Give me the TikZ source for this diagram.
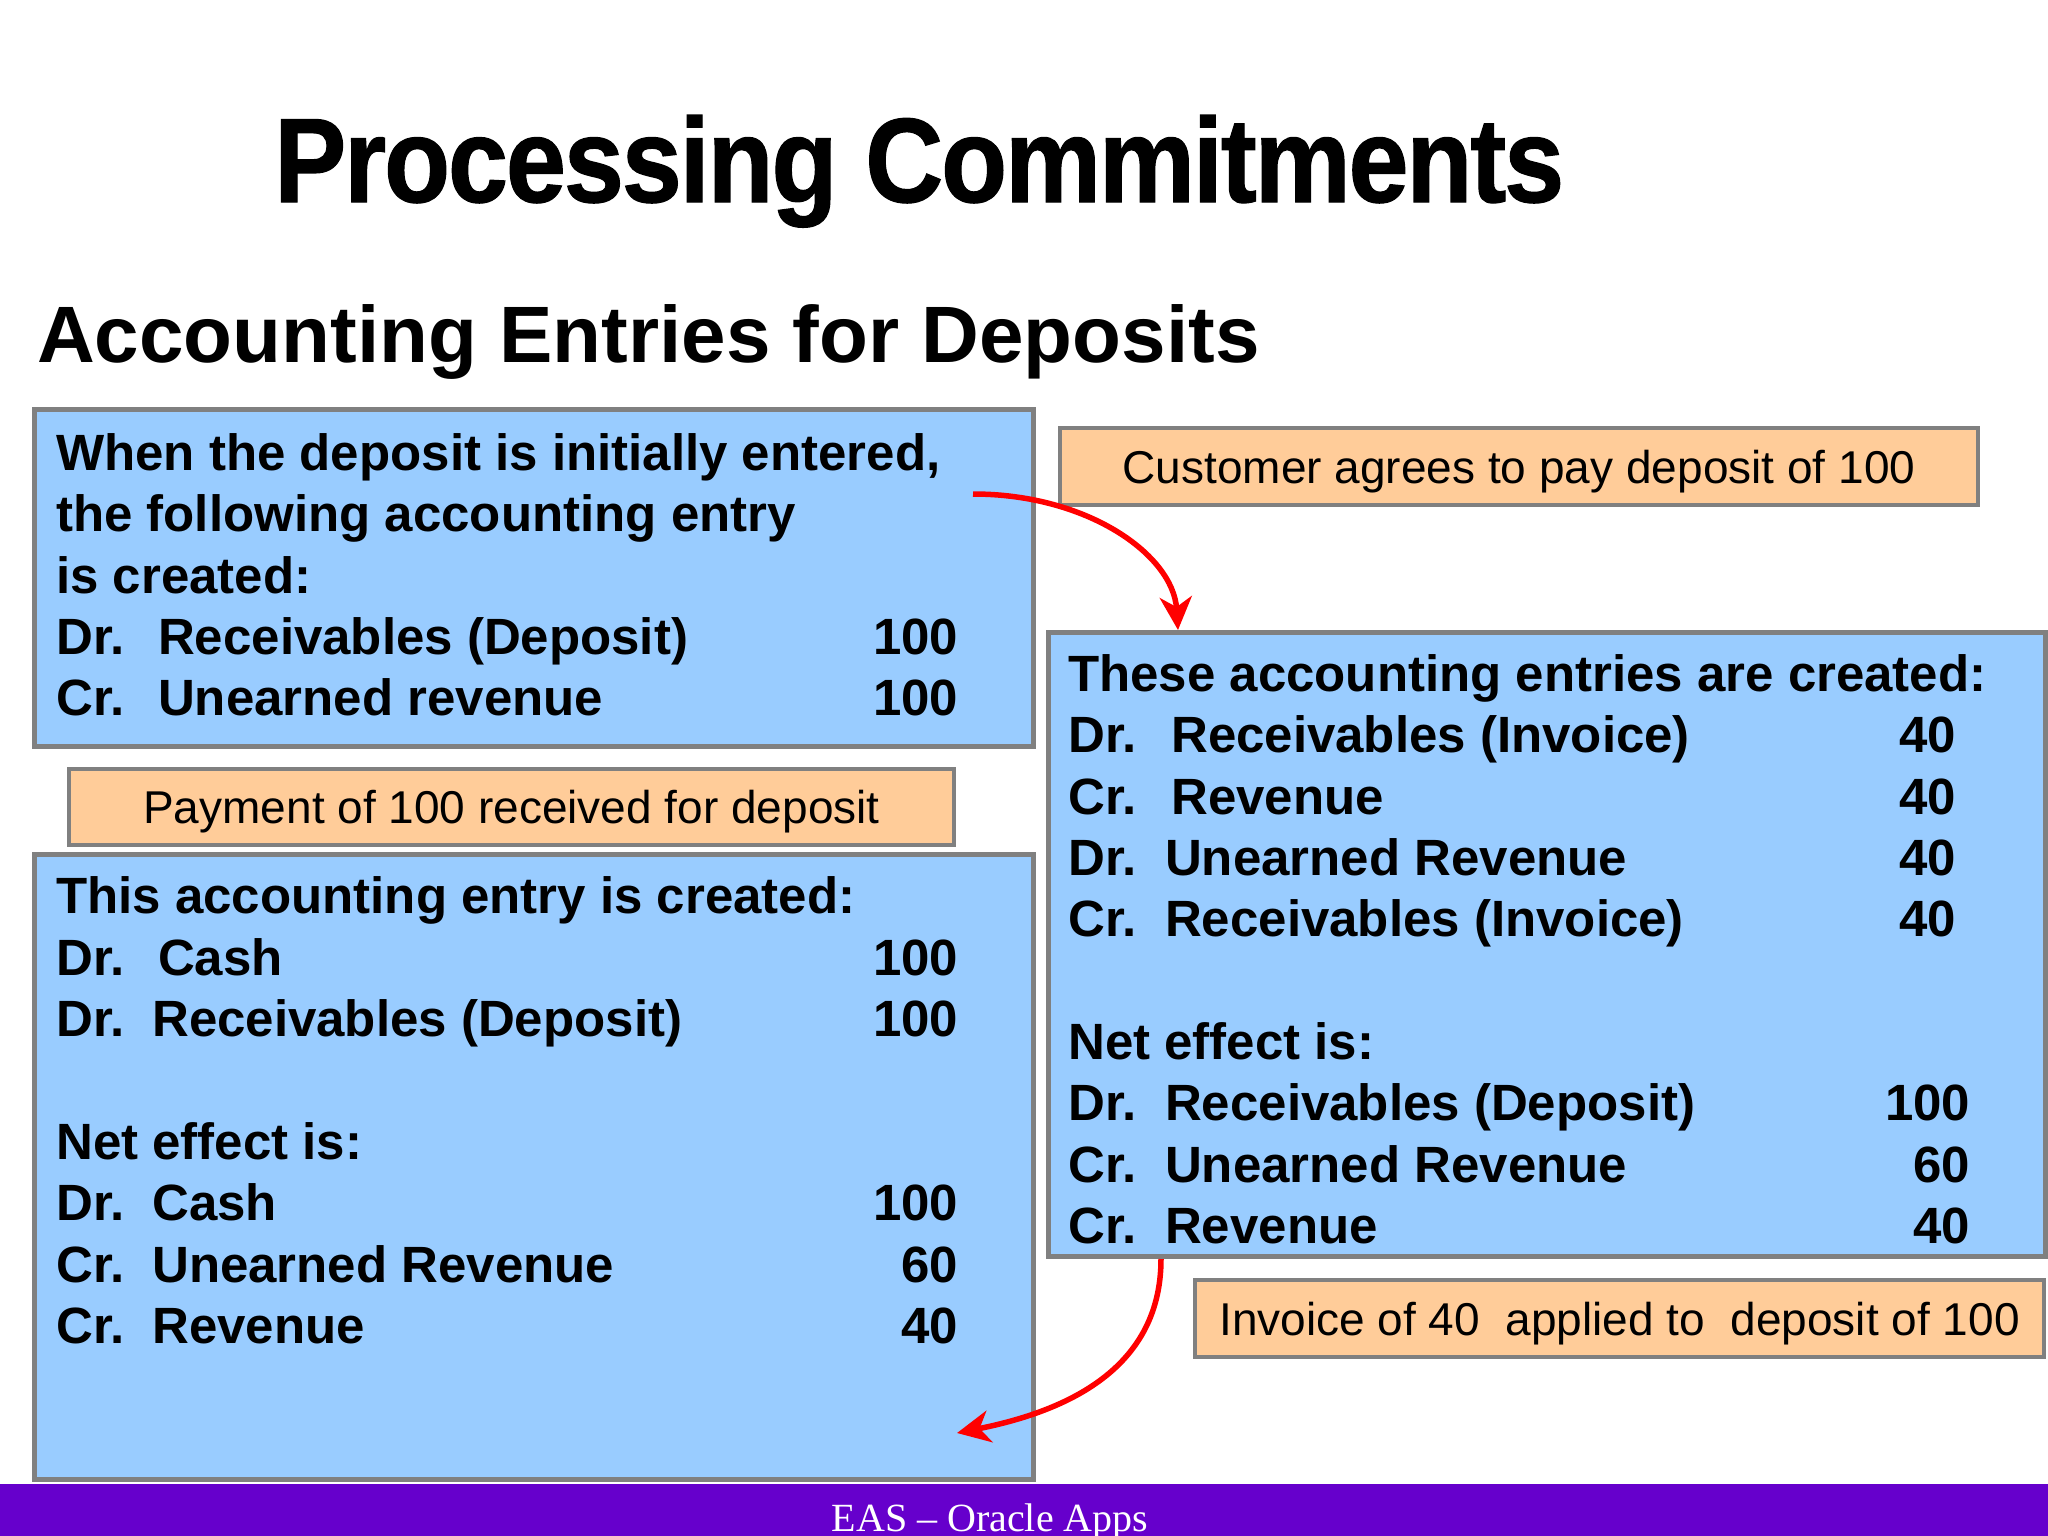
\documentclass[tikz,border=0pt]{standalone}
\usepackage{fontspec}
\setmainfont{Liberation Sans}
\newfontfamily\footfont{Liberation Serif}
\newfontfamily\titlefont[LetterSpace=-2,FakeBold=1]{Liberation Sans Bold}
\usepackage{graphicx}
\usetikzlibrary{arrows.meta}
\definecolor{boxblue}{HTML}{99CCFF}
\definecolor{boxorange}{HTML}{FFCC99}
\definecolor{boxgray}{HTML}{808080}
\definecolor{bandpurple}{HTML}{6600CC}
\definecolor{arrowred}{HTML}{FF0000}
% #1 label column width, #2 Dr./Cr., #3 account, #4 amount, #5 total width
\newcommand\acline[5]{\makebox[#1][l]{#2}\rlap{#3}\makebox[\dimexpr#5-#1\relax][r]{#4}}
\begin{document}
\begin{tikzpicture}[x=1pt,y=-1pt,
  bluebox/.style={draw=boxgray, line width=5pt, fill=boxblue, rectangle, inner sep=0pt},
  orangebox/.style={draw=boxgray, line width=4pt, fill=boxorange, rectangle, inner sep=0pt,
    font=\fontsize{46}{46}\selectfont, text height=33pt, text depth=0pt},
  ln/.style={anchor=base west, inner sep=0pt, font=\bfseries\fontsize{51}{61}\selectfont},
  redarrow/.style={draw=arrowred, line width=5.5pt, -{Stealth[length=33pt,width=32pt,inset=10pt]}}
]
\useasboundingbox (0,0) rectangle (2048,1536);
\fill[white] (0,0) rectangle (2048,1536);

% titles
\node[anchor=base west, inner sep=0pt, font=\titlefont\fontsize{120}{120}\selectfont] (title) at (274,202)
  {\resizebox{1290pt}{\height}{Processing Commitments}};
\node[anchor=base west, inner sep=0pt, font=\bfseries\fontsize{80}{80}\selectfont] (subtitle) at (37,362)
  {Accounting Entries for Deposits};

% boxes
\node[bluebox, minimum width=999pt, minimum height=337pt] (box1) at (534,578) {};
\node[bluebox, minimum width=999pt, minimum height=625pt] (box2) at (534,1167) {};
\node[bluebox, minimum width=997pt, minimum height=624pt] (box3) at (1547,944.5) {};
\node[orangebox, minimum width=918pt, minimum height=77pt] (cust) at (1519,466.5) {Customer agrees to pay deposit of 100};
\node[orangebox, minimum width=885pt, minimum height=76pt] (pay) at (511.5,807) {Payment of 100 received for deposit};
\node[orangebox, minimum width=849pt, minimum height=77pt] (inv) at (1619.5,1318.5) {Invoice of 40\ \ applied to\ \ deposit of 100};

% box 1 text
\node[ln] (b1l1) at (56,470) {When the deposit is initially entered,};
\node[ln] (b1l2) at (56,531.5) {the following accounting entry};
\node[ln] (b1l3) at (56,593) {is created:};
\node[ln] (b1l4) at (56,654) {\acline{102pt}{Dr.}{Receivables (Deposit)}{100}{902pt}};
\node[ln] (b1l5) at (56,715.5) {\acline{102pt}{Cr.}{Unearned revenue}{100}{902pt}};

% box 2 text
\node[ln] (b2l1) at (56,913) {This accounting entry is created:};
\node[ln] (b2l2) at (56,975) {\acline{102pt}{Dr.}{Cash}{100}{902pt}};
\node[ln] (b2l3) at (56,1036) {\acline{96pt}{Dr.}{Receivables (Deposit)}{100}{902pt}};
\node[ln] (b2l4) at (56,1159) {Net effect is:};
\node[ln] (b2l5) at (56,1220) {\acline{96pt}{Dr.}{Cash}{100}{902pt}};
\node[ln] (b2l6) at (56,1282) {\acline{96pt}{Cr.}{Unearned Revenue}{60}{902pt}};
\node[ln] (b2l7) at (56,1343) {\acline{96pt}{Cr.}{Revenue}{40}{902pt}};

% box 3 text
\node[ln] (b3l1) at (1068,691) {These accounting entries are created:};
\node[ln] (b3l2) at (1068,752) {\acline{103pt}{Dr.}{Receivables (Invoice)}{40}{888pt}};
\node[ln] (b3l3) at (1068,814) {\acline{103pt}{Cr.}{Revenue}{40}{888pt}};
\node[ln] (b3l4) at (1068,875) {\acline{97pt}{Dr.}{Unearned Revenue}{40}{888pt}};
\node[ln] (b3l5) at (1068,936) {\acline{97pt}{Cr.}{Receivables (Invoice)}{40}{888pt}};
\node[ln] (b3l6) at (1068,1059) {Net effect is:};
\node[ln] (b3l7) at (1068,1120) {\acline{97pt}{Dr.}{Receivables (Deposit)}{100}{902pt}};
\node[ln] (b3l8) at (1068,1182) {\acline{97pt}{Cr.}{Unearned Revenue}{60}{902pt}};
\node[ln] (b3l9) at (1068,1243) {\acline{97pt}{Cr.}{Revenue}{40}{902pt}};

% arrows
\coordinate (a1s) at (973,494);
\coordinate (a1e) at (1178,630);
\coordinate (a2s) at (1161,1259);
\coordinate (a2e) at (957,1433);
\draw[redarrow] (a1s) .. controls +(115,0) and +(-5,-75) .. (a1e);
\draw[redarrow] (a2s) .. controls +(0,115) and +(100,-20) .. (a2e);

% footer
\fill[bandpurple] (0,1484) rectangle (2048,1536);
\node[anchor=base, inner sep=0pt, text=white, font=\footfont\fontsize{40}{40}\selectfont] (footer) at (990,1531)
  {EAS \textendash{} Oracle Apps};
\end{tikzpicture}
\end{document}
